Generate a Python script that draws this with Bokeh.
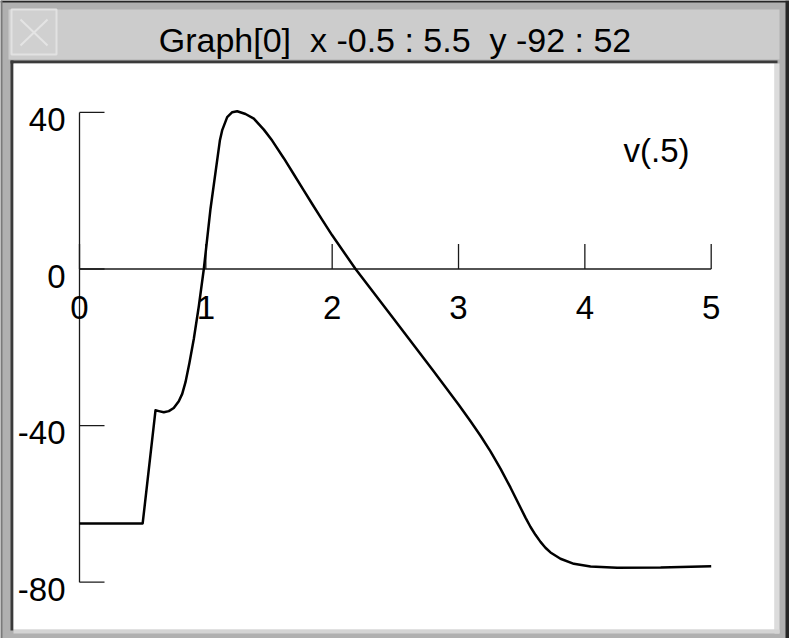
from bokeh.plotting import figure
from bokeh.models import Range1d, Label
from bokeh.core.properties import value
from bokeh.embed import file_html
from bokeh.resources import INLINE

# membrane potential trace v(.5) against time (ms, mV)
t_ms = [0.0, 0.5, 0.6015, 0.628, 0.667, 0.707, 0.746, 0.786, 0.813, 0.839,
        0.87, 0.905, 0.945, 0.984, 1.037, 1.111, 1.129, 1.169, 1.209, 1.248,
        1.314, 1.38, 1.459, 1.525, 1.617, 1.696, 1.775, 1.842, 1.92, 2.0,
        2.185, 2.5, 2.8, 3.0, 3.095, 3.174, 3.253, 3.332, 3.411, 3.491,
        3.53, 3.57, 3.609, 3.649, 3.688, 3.728, 3.807, 3.913, 4.045, 4.256,
        4.6, 5.0]
v_mv = [-65.0, -65.0, -36.1, -36.3, -36.6, -36.3, -35.5, -33.8, -31.9, -28.9,
        -24.0, -17.8, -9.4, 0.0, 15.4, 32.8, 35.4, 38.8, 40.05, 40.3,
        39.6, 38.4, 35.6, 32.8, 28.3, 24.2, 20.1, 16.6, 12.6, 8.6,
        0.0, -13.3, -26.0, -34.6, -38.9, -42.6, -46.6, -51.0, -55.8, -61.0,
        -63.5, -65.9, -67.9, -69.7, -71.2, -72.4, -74.0, -75.3, -76.0, -76.3,
        -76.25, -75.9]

x_ticks = [0, 1, 2, 3, 4, 5]
y_ticks = [-80, -40, 0, 40]
x_tick_labels = ["0", "1", "2", "3", "4", "5"]
y_tick_labels = ["-80", "-40", "0", "40"]

trace_label = "v(.5)"
# non-breaking spaces keep the double gaps of the window title
window_title = "Graph[0] \u00a0x -0.5 : 5.5 \u00a0y -92 : 52"

W, H = 789, 638
# screen placement of the data origin and scale (pixels per unit)
X0, XS = 79.0, 126.34
Y0, YS = 268.5, 3.915

FONT = "Liberation Sans"


def qx(px):
    return (px - X0) / XS


def qy(py):
    return (Y0 - py) / YS


p = figure(width=W, height=H, output_backend="svg", toolbar_location=None,
           x_range=Range1d(qx(0), qx(W)), y_range=Range1d(qy(H), qy(0)),
           min_border=0, min_border_left=0, min_border_right=0,
           min_border_top=0, min_border_bottom=0)
p.axis.visible = False
p.grid.visible = False
p.outline_line_color = None
p.background_fill_color = "#b0b0b0"
p.border_fill_color = "#b0b0b0"


def box(l, t, r, b, color):
    p.quad(left=qx(l), right=qx(r), top=qy(t), bottom=qy(b),
           fill_color=color, line_color=None)


# window frame
box(0, 0, W, 2, "#262626")
box(0, 0, 2, H, "#7a7a7a")
box(785, 0, W, H, "#262626")
box(8, 9, 779, 59, "#cccccc")
# close box
p.quad(left=qx(11), right=qx(56), top=qy(9), bottom=qy(54),
       fill_color="#d0d0d0", line_color="#e2e2e2", line_width=2)
p.segment(x0=[qx(20), qx(47)], y0=[qy(19), qy(19)], x1=[qx(47), qx(20)], y1=[qy(45), qy(45)],
          line_color="#e4e4e4", line_width=2)
# canvas border
box(10, 60, 777, 63, "#3a3a3a")
box(10, 60, 13, 630, "#3a3a3a")
box(774, 63, 779, 633, "#dcdcdc")
box(13, 629, 779, 633, "#d4d4d4")
box(13, 63, 774, 629, "#ffffff")

# title
p.add_layout(Label(x=qx(W / 2), y=qy(39), text=window_title, text_align="center",
                   text_baseline="alphabetic", text_font=FONT,
                   text_font_size="34px", text_color="#000000"))

# axes drawn through the origin
axis_color = "#1a1a1a"
p.segment(x0=[0], y0=[min(y_ticks)], x1=[0], y1=[max(y_ticks)], line_color=axis_color, line_width=1.3)
p.segment(x0=[0], y0=[0], x1=[max(x_ticks)], y1=[0], line_color=axis_color, line_width=1.3)
y_tick_len = 25 / XS
x_tick_len = 25 / YS
p.segment(x0=[0] * len(y_ticks), y0=y_ticks, x1=[y_tick_len] * len(y_ticks), y1=y_ticks,
          line_color=axis_color, line_width=1.3)
p.segment(x0=x_ticks, y0=[0] * len(x_ticks), x1=x_ticks, y1=[x_tick_len] * len(x_ticks),
          line_color=axis_color, line_width=1.3)

p.text(x=[0] * len(y_ticks), y=y_ticks, text=y_tick_labels, x_offset=-14, y_offset=7,
       text_align="right", text_baseline="alphabetic", text_font=value(FONT),
       text_font_size="33px", text_color="#000000")
p.text(x=x_ticks, y=[0] * len(x_ticks), text=x_tick_labels, x_offset=0, y_offset=38.5,
       text_align="center", text_baseline="alphabetic", text_font=value(FONT),
       text_font_size="33px", text_color="#000000")

# trace and its label
p.line(t_ms, v_mv, line_color="#000000", line_width=2.5, line_join="round")
p.add_layout(Label(x=qx(623), y=qy(150), text=trace_label, text_align="left",
                   text_baseline="alphabetic", text_font=FONT,
                   text_font_size="33px", text_color="#000000"))

open("out.html", "w").write(file_html(p, INLINE))
